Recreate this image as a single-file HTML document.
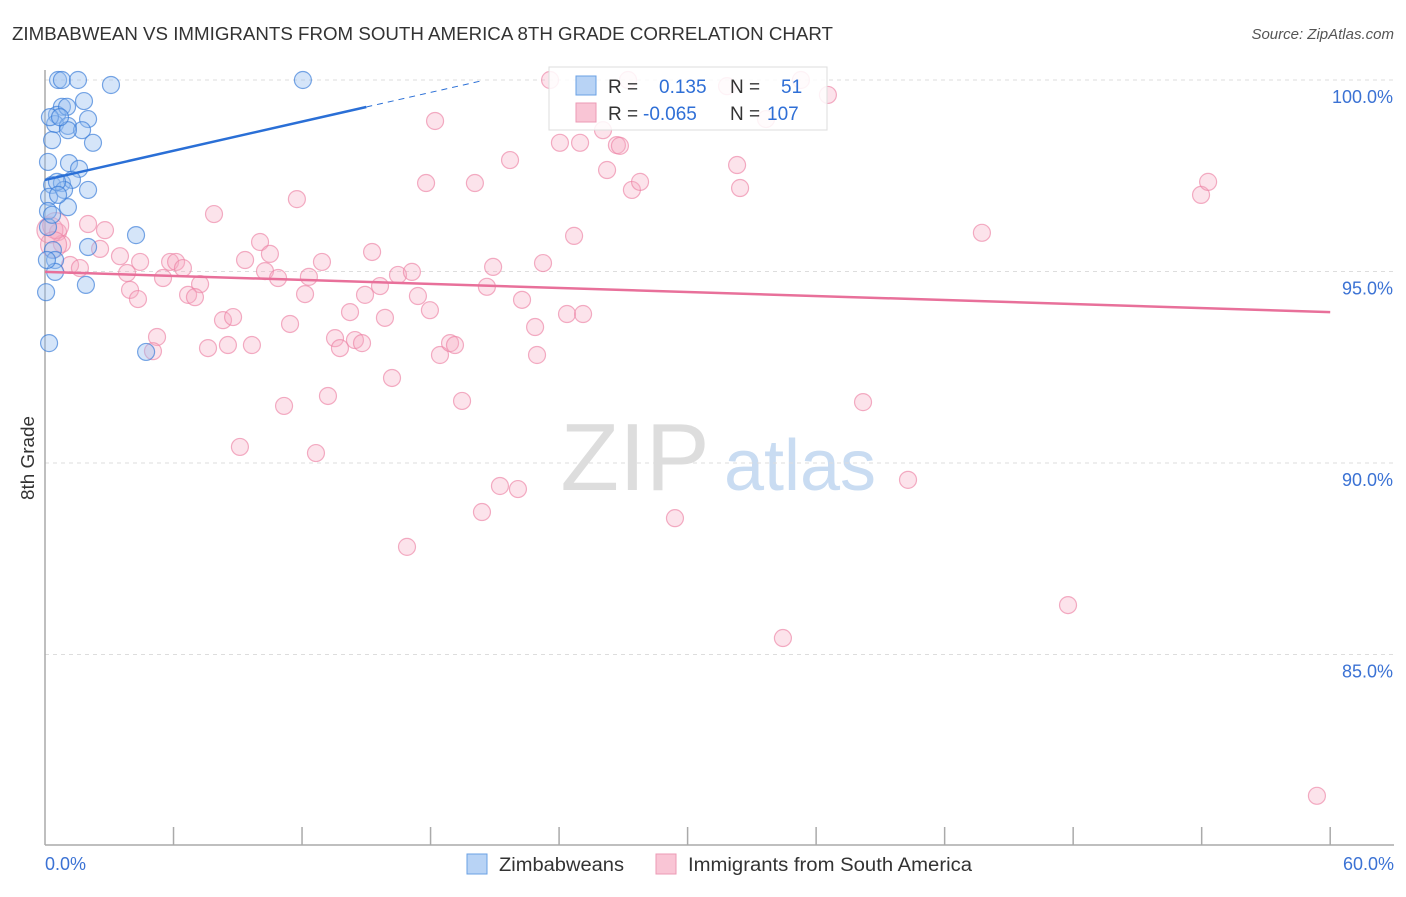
<!DOCTYPE html>
<html><head><meta charset="utf-8"><style>
body{margin:0;background:#fff;font-family:"Liberation Sans",sans-serif}
svg text{font-family:"Liberation Sans",sans-serif}
</style></head><body>
<svg id="c" width="1406" height="892" xmlns="http://www.w3.org/2000/svg">
<text x="12" y="40" font-size="18" fill="#333" textLength="821" lengthAdjust="spacingAndGlyphs">ZIMBABWEAN VS IMMIGRANTS FROM SOUTH AMERICA 8TH GRADE CORRELATION CHART</text>
<text x="1394" y="39" font-size="15" fill="#555" font-style="italic" text-anchor="end">Source: ZipAtlas.com</text>
<g>
<text x="635" y="490" font-size="96" fill="#ddd" font-family="Liberation Serif,serif" text-anchor="middle">ZIP</text>
<text x="800" y="490" font-size="72" fill="#c9dcf2" text-anchor="middle">atlas</text></g>
<g id="grid"></g><g id="axes"></g><g id="pts"></g><g id="trend"></g>
<text x="34" y="458" font-size="18" fill="#333" transform="rotate(-90 34 458)" text-anchor="middle" textLength="84" lengthAdjust="spacingAndGlyphs">8th Grade</text>
<g>
<rect x="549" y="67" width="278" height="63" fill="#fff" fill-opacity="0.85" stroke="#ddd"/>
<rect x="576" y="76" width="20" height="19" fill="#b8d3f5" stroke="#6aa0e4"/>
<rect x="576" y="103" width="20" height="19" fill="#f9c5d5" stroke="#ec9ab5"/>
<text x="608" y="93" font-size="19" fill="#333">R = <tspan x="659" fill="#2f6fd6">0.135</tspan><tspan x="730" fill="#333">N =</tspan><tspan x="781" fill="#2f6fd6">51</tspan></text>
<text x="608" y="120" font-size="19" fill="#333">R = <tspan x="643" fill="#2f6fd6">-0.065</tspan><tspan x="730" fill="#333">N =</tspan><tspan x="767" fill="#2f6fd6">107</tspan></text>
</g>
<g>
<rect x="467" y="854" width="20" height="20" fill="#b8d3f5" stroke="#6aa0e4"/>
<text x="499" y="871" font-size="19" fill="#333" textLength="125" lengthAdjust="spacingAndGlyphs">Zimbabweans</text>
<rect x="656" y="854" width="20" height="20" fill="#f9c5d5" stroke="#ec9ab5"/>
<text x="688" y="871" font-size="19" fill="#333" textLength="284" lengthAdjust="spacingAndGlyphs">Immigrants from South America</text>
</g>
</svg>
<script>
const yTicks=[100,95,90,85];
const xTickLabels=["0.0%","60.0%"];
const blueX=[0.61,0.79,1.54,3.08,12.04,0.79,1.82,0.56,1.03,2.01,0.47,1.07,0.33,1.73,2.24,0.14,1.12,1.59,0.33,0.79,1.26,2.01,0.19,1.07,0.14,4.25,0.14,2.01,0.37,0.47,0.47,1.91,0.05,0.19,4.72,0.89,0.56,0.33,1.07,0.23,0.70,0.61,0.09];
const blueY=[100,100,100,99.87,100,99.30,99.45,99.09,99.30,98.98,98.85,98.80,98.43,98.69,98.36,97.86,97.83,97.68,97.26,97.31,97.39,97.13,96.95,96.68,96.58,95.95,96.16,95.64,95.56,95.30,94.99,94.65,94.46,93.13,92.90,97.13,97.34,96.48,98.69,99.03,99.03,97.00,95.30];
const pinkX=[23.58,27.22,31.84,35.29,36.55,18.21,26.05,33.66,24.04,24.98,26.70,26.84,21.71,26.24,32.31,32.45,27.40,27.78,17.79,20.07,11.76,7.89,53.97,54.30,43.74,24.70,10.04,15.27,10.50,9.34,2.01,2.80,0.61,0.79,2.57,3.50,5.84,6.12,6.44,10.27,10.88,12.32,12.93,20.92,23.25,16.48,17.13,3.83,4.44,5.51,7.24,15.64,20.63,3.97,4.34,6.68,7.00,12.14,14.94,17.41,22.27,8.31,8.78,11.44,14.24,15.87,17.97,24.37,25.12,22.88,5.23,5.04,7.61,8.54,9.66,13.54,13.77,14.47,14.80,18.44,18.91,19.14,22.97,16.20,11.16,13.21,19.47,38.19,9.10,12.65,21.24,22.08,40.29,20.40,29.41,16.90,47.76,34.45,59.38,1.17,1.63,0.23,0.5,0.4];
const pinkY=[100,100,99.84,100,99.61,98.93,98.69,98.98,98.36,98.36,98.30,98.28,97.91,97.65,97.78,97.18,97.13,97.34,97.31,97.31,96.89,96.50,97.00,97.34,96.01,95.93,95.77,95.51,95.46,95.30,96.24,96.08,96.03,95.72,95.59,95.40,95.25,95.25,95.09,95.01,94.83,94.86,95.25,95.12,95.22,94.91,94.99,94.96,95.25,94.83,94.67,94.62,94.60,94.52,94.28,94.39,94.33,94.41,94.39,94.36,94.26,93.73,93.81,93.63,93.94,93.79,93.99,93.89,93.89,93.55,93.29,92.92,93.00,93.08,93.08,93.26,93.00,93.21,93.13,92.82,93.13,93.08,92.82,92.22,91.49,91.75,91.62,91.59,90.42,90.26,89.40,89.32,89.56,88.72,88.56,87.81,86.29,85.43,81.31,95.17,95.09,96.08,96.2,95.7];
const blueTrend=[97.39,0.127];
const pinkTrend=[94.99,-0.0175];
const NS="http://www.w3.org/2000/svg";
const X=v=>45+v*21.42, Y=v=>80+(100-v)*38.3;
function mk(t,a,p){const e=document.createElementNS(NS,t);for(const k in a)e.setAttribute(k,a[k]);p.appendChild(e);return e;}
const grid=document.getElementById('grid'),axes=document.getElementById('axes'),pts=document.getElementById('pts'),tr=document.getElementById('trend');
yTicks.forEach(t=>{
 const l=mk('line',{x1:45,x2:1394,y1:Y(t),y2:Y(t),stroke:'#ddd','stroke-dasharray':'4 4'},grid);
 
 
 const tx=mk('text',{x:1393,y:Y(t)+23,'font-size':18,fill:'#3b72d4','text-anchor':'end'},grid);tx.textContent=t.toFixed(1)+'%';
 
 
});
mk('line',{x1:45,x2:45,y1:70,y2:845,stroke:'#aaa','stroke-width':1.5},axes);
mk('line',{x1:45,x2:1394,y1:845,y2:845,stroke:'#aaa','stroke-width':1.5},axes);
for(let k=1;k<=10;k++){const t=mk('line',{x1:X(k*6),x2:X(k*6),y1:827,y2:845,stroke:'#aaa','stroke-width':1.5},axes);
 
 }
const xl0=mk('text',{x:45,y:870,'font-size':18,fill:'#3b72d4'},axes);xl0.textContent=xTickLabels[0];


const xl1=mk('text',{x:1394,y:870,'font-size':18,fill:'#3b72d4','text-anchor':'end'},axes);xl1.textContent=xTickLabels[1];


pinkX.forEach((x,i)=>{const c=mk('circle',{cx:X(x),cy:Y(pinkY[i]),r:i>=101?13:8.5,fill:'rgba(246,170,195,0.33)',stroke:'rgba(236,130,165,0.65)','stroke-width':1.2},pts);
 
 });
blueX.forEach((x,i)=>{const c=mk('circle',{cx:X(x),cy:Y(blueY[i]),r:8.5,fill:'rgba(150,190,240,0.4)',stroke:'rgba(50,120,215,0.65)','stroke-width':1.2},pts);
 
 });
const bt=mk('line',{x1:X(0),y1:Y(blueTrend[0]),x2:X(15),y2:Y(blueTrend[0]+15*blueTrend[1]),stroke:'#2a6fd6','stroke-width':2.5},tr);


const bd=mk('line',{x1:X(15),y1:Y(blueTrend[0]+15*blueTrend[1]),x2:X(20.5),y2:Y(blueTrend[0]+20.5*blueTrend[1]),stroke:'#2a6fd6','stroke-width':1,'stroke-dasharray':'6 5'},tr);


const pt=mk('line',{x1:X(0),y1:Y(pinkTrend[0]),x2:X(60),y2:Y(pinkTrend[0]+60*pinkTrend[1]),stroke:'#e8709a','stroke-width':2.5},tr);


</script>
</body></html>
